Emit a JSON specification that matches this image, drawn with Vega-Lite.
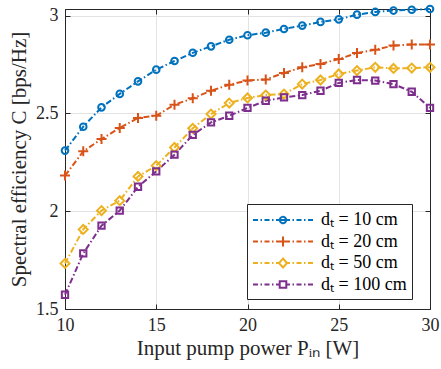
{
  "$schema": "https://vega.github.io/schema/vega-lite/v6.json",
  "width": 365,
  "height": 300,
  "autosize": {"type": "none"},
  "padding": {"left": 65, "top": 9, "right": 11, "bottom": 60},
  "background": "white",
  "config": {
    "font": "Liberation Serif",
    "view": {"stroke": "#262626", "strokeWidth": 1},
    "axis": {
      "domainColor": "#262626",
      "tickColor": "#262626",
      "tickSize": -5,
      "labelFlush": false,
      "labelFont": "Liberation Serif",
      "labelFontSize": 18,
      "labelColor": "#262626",
      "titleFont": "Liberation Serif",
      "titleFontSize": 21,
      "titleFontWeight": "normal",
      "titleColor": "#262626",
      "gridColor": "#e3e3e3",
      "gridWidth": 1
    },
    "legend": {
      "labelFont": "Liberation Serif",
      "labelFontSize": 18,
      "labelColor": "#000000",
      "strokeColor": "#262626",
      "fillColor": "white",
      "padding": 5,
      "symbolSize": 400,
      "symbolStrokeWidth": 2,
      "rowPadding": 1.5
    }
  },
  "data": {
    "values": [
      {"P": 10, "dt": "10 cm", "C": 2.31}, {"P": 11, "dt": "10 cm", "C": 2.432}, {"P": 12, "dt": "10 cm", "C": 2.531}, {"P": 13, "dt": "10 cm", "C": 2.6}, {"P": 14, "dt": "10 cm", "C": 2.664}, {"P": 15, "dt": "10 cm", "C": 2.724}, {"P": 16, "dt": "10 cm", "C": 2.768}, {"P": 17, "dt": "10 cm", "C": 2.81}, {"P": 18, "dt": "10 cm", "C": 2.843}, {"P": 19, "dt": "10 cm", "C": 2.877}, {"P": 20, "dt": "10 cm", "C": 2.9}, {"P": 21, "dt": "10 cm", "C": 2.913}, {"P": 22, "dt": "10 cm", "C": 2.932}, {"P": 23, "dt": "10 cm", "C": 2.949}, {"P": 24, "dt": "10 cm", "C": 2.968}, {"P": 25, "dt": "10 cm", "C": 2.981}, {"P": 26, "dt": "10 cm", "C": 3.005}, {"P": 27, "dt": "10 cm", "C": 3.019}, {"P": 28, "dt": "10 cm", "C": 3.026}, {"P": 29, "dt": "10 cm", "C": 3.03}, {"P": 30, "dt": "10 cm", "C": 3.034},
      {"P": 10, "dt": "20 cm", "C": 2.182}, {"P": 11, "dt": "20 cm", "C": 2.306}, {"P": 12, "dt": "20 cm", "C": 2.369}, {"P": 13, "dt": "20 cm", "C": 2.426}, {"P": 14, "dt": "20 cm", "C": 2.477}, {"P": 15, "dt": "20 cm", "C": 2.488}, {"P": 16, "dt": "20 cm", "C": 2.545}, {"P": 17, "dt": "20 cm", "C": 2.577}, {"P": 18, "dt": "20 cm", "C": 2.616}, {"P": 19, "dt": "20 cm", "C": 2.647}, {"P": 20, "dt": "20 cm", "C": 2.668}, {"P": 21, "dt": "20 cm", "C": 2.674}, {"P": 22, "dt": "20 cm", "C": 2.707}, {"P": 23, "dt": "20 cm", "C": 2.736}, {"P": 24, "dt": "20 cm", "C": 2.753}, {"P": 25, "dt": "20 cm", "C": 2.778}, {"P": 26, "dt": "20 cm", "C": 2.809}, {"P": 27, "dt": "20 cm", "C": 2.826}, {"P": 28, "dt": "20 cm", "C": 2.847}, {"P": 29, "dt": "20 cm", "C": 2.853}, {"P": 30, "dt": "20 cm", "C": 2.853},
      {"P": 10, "dt": "50 cm", "C": 1.733}, {"P": 11, "dt": "50 cm", "C": 1.907}, {"P": 12, "dt": "50 cm", "C": 2.003}, {"P": 13, "dt": "50 cm", "C": 2.054}, {"P": 14, "dt": "50 cm", "C": 2.178}, {"P": 15, "dt": "50 cm", "C": 2.233}, {"P": 16, "dt": "50 cm", "C": 2.326}, {"P": 17, "dt": "50 cm", "C": 2.424}, {"P": 18, "dt": "50 cm", "C": 2.497}, {"P": 19, "dt": "50 cm", "C": 2.553}, {"P": 20, "dt": "50 cm", "C": 2.579}, {"P": 21, "dt": "50 cm", "C": 2.594}, {"P": 22, "dt": "50 cm", "C": 2.599}, {"P": 23, "dt": "50 cm", "C": 2.65}, {"P": 24, "dt": "50 cm", "C": 2.671}, {"P": 25, "dt": "50 cm", "C": 2.702}, {"P": 26, "dt": "50 cm", "C": 2.719}, {"P": 27, "dt": "50 cm", "C": 2.736}, {"P": 28, "dt": "50 cm", "C": 2.73}, {"P": 29, "dt": "50 cm", "C": 2.732}, {"P": 30, "dt": "50 cm", "C": 2.736},
      {"P": 10, "dt": "100 cm", "C": 1.573}, {"P": 11, "dt": "100 cm", "C": 1.784}, {"P": 12, "dt": "100 cm", "C": 1.926}, {"P": 13, "dt": "100 cm", "C": 2.003}, {"P": 14, "dt": "100 cm", "C": 2.125}, {"P": 15, "dt": "100 cm", "C": 2.204}, {"P": 16, "dt": "100 cm", "C": 2.289}, {"P": 17, "dt": "100 cm", "C": 2.39}, {"P": 18, "dt": "100 cm", "C": 2.454}, {"P": 19, "dt": "100 cm", "C": 2.488}, {"P": 20, "dt": "100 cm", "C": 2.528}, {"P": 21, "dt": "100 cm", "C": 2.565}, {"P": 22, "dt": "100 cm", "C": 2.582}, {"P": 23, "dt": "100 cm", "C": 2.594}, {"P": 24, "dt": "100 cm", "C": 2.616}, {"P": 25, "dt": "100 cm", "C": 2.656}, {"P": 26, "dt": "100 cm", "C": 2.671}, {"P": 27, "dt": "100 cm", "C": 2.668}, {"P": 28, "dt": "100 cm", "C": 2.65}, {"P": 29, "dt": "100 cm", "C": 2.611}, {"P": 30, "dt": "100 cm", "C": 2.528}
    ]
  },
  "resolve": {"axis": {"x": "independent", "y": "independent"}},
  "layer": [
    {
      "mark": {"type": "line", "strokeWidth": 2, "strokeDash": [6, 2.5, 1.5, 2.5], "clip": false},
      "encoding": {
        "x": {
          "field": "P", "type": "quantitative",
          "scale": {"domain": [10, 30], "nice": false, "zero": false},
          "axis": {"orient": "bottom", "values": [10, 15, 20, 25, 30], "title": "Input pump power Pᵢₙ [W]", "labelPadding": 12, "titlePadding": 3, "grid": true}
        },
        "y": {
          "field": "C", "type": "quantitative",
          "scale": {"domain": [1.5, 3.034], "nice": false, "zero": false},
          "axis": {"orient": "left", "values": [1.5, 2, 2.5, 3], "format": "~g", "title": "Spectral efficiency C [bps/Hz]", "labelPadding": 12, "titlePadding": 6, "grid": true}
        },
        "color": {
          "field": "dt", "type": "nominal",
          "scale": {"domain": ["10 cm", "20 cm", "50 cm", "100 cm"], "range": ["#0072BD", "#D95319", "#EDB120", "#7E2F8E"]},
          "legend": {
            "title": null,
            "orient": "none",
            "legendX": 182,
            "legendY": 195,
            "labelExpr": "'dₜ = ' + datum.label",
            "symbolOffset": 20,
            "labelOffset": 27,
            "encode": {
              "symbols": {
                "update": {
                  "shape": {"signal": "datum.value == '10 cm' ? 'M-3,0L-2.5,0M-2.25,0L-2.1,0M-1.85,0L-1.35,0M-1.1,0L-0.95,0M-0.7,0L0.7,0M0.95,0L1.1,0M1.35,0L1.85,0M2.1,0L2.25,0M2.5,0L3,0M0.32,0A0.32,0.32,0,1,1,-0.32,0A0.32,0.32,0,1,1,0.32,0' : datum.value == '20 cm' ? 'M-3,0L-2.5,0M-2.25,0L-2.1,0M-1.85,0L-1.35,0M-1.1,0L-0.95,0M-0.7,0L0.7,0M0.95,0L1.1,0M1.35,0L1.85,0M2.1,0L2.25,0M2.5,0L3,0M0,-0.5L0,0.5' : datum.value == '50 cm' ? 'M-3,0L-2.5,0M-2.25,0L-2.1,0M-1.85,0L-1.35,0M-1.1,0L-0.95,0M-0.7,0L-0.42,0M0.42,0L0.7,0M0.95,0L1.1,0M1.35,0L1.85,0M2.1,0L2.25,0M2.5,0L3,0M0,-0.45L0.4,0L0,0.45L-0.4,0Z' : 'M-3,0L-2.5,0M-2.25,0L-2.1,0M-1.85,0L-1.35,0M-1.1,0L-0.95,0M-0.7,0L-0.35,0M0.35,0L0.7,0M0.95,0L1.1,0M1.35,0L1.85,0M2.1,0L2.25,0M2.5,0L3,0M-0.33,-0.33L0.33,-0.33L0.33,0.33L-0.33,0.33Z'"},
                  "fill": {"value": "transparent"},
                  "strokeDash": {"value": [1, 0]},
                  "strokeWidth": {"value": 2},
                  "opacity": {"value": 1}
                }
              }
            }
          }
        }
      }
    },
    {
      "transform": [{"filter": "datum.dt == '10 cm'"}],
      "mark": {"type": "point", "shape": "circle", "size": 44, "filled": false, "strokeWidth": 2, "opacity": 1, "clip": false},
      "encoding": {
        "x": {
          "field": "P", "type": "quantitative",
          "axis": {"orient": "top", "values": [10, 15, 20, 25, 30], "labels": false, "title": null, "grid": false}
        },
        "y": {
          "field": "C", "type": "quantitative",
          "axis": {"orient": "right", "values": [1.5, 2, 2.5, 3], "labels": false, "title": null, "grid": false}
        },
        "color": {"field": "dt", "type": "nominal"}
      }
    },
    {
      "transform": [{"filter": "datum.dt == '20 cm'"}],
      "mark": {"type": "point", "shape": "M-1,0L1,0M0,-1L0,1", "size": 100, "filled": false, "strokeWidth": 2, "opacity": 1, "clip": false},
      "encoding": {
        "x": {"field": "P", "type": "quantitative", "axis": null},
        "y": {"field": "C", "type": "quantitative", "axis": null},
        "color": {"field": "dt", "type": "nominal"}
      }
    },
    {
      "transform": [{"filter": "datum.dt == '50 cm'"}],
      "mark": {"type": "point", "shape": "diamond", "size": 80, "filled": false, "strokeWidth": 2, "opacity": 1, "clip": false},
      "encoding": {
        "x": {"field": "P", "type": "quantitative", "axis": null},
        "y": {"field": "C", "type": "quantitative", "axis": null},
        "color": {"field": "dt", "type": "nominal"}
      }
    },
    {
      "transform": [{"filter": "datum.dt == '100 cm'"}],
      "mark": {"type": "point", "shape": "square", "size": 40, "filled": false, "strokeWidth": 2, "opacity": 1, "clip": false},
      "encoding": {
        "x": {"field": "P", "type": "quantitative", "axis": null},
        "y": {"field": "C", "type": "quantitative", "axis": null},
        "color": {"field": "dt", "type": "nominal"}
      }
    }
  ]
}
